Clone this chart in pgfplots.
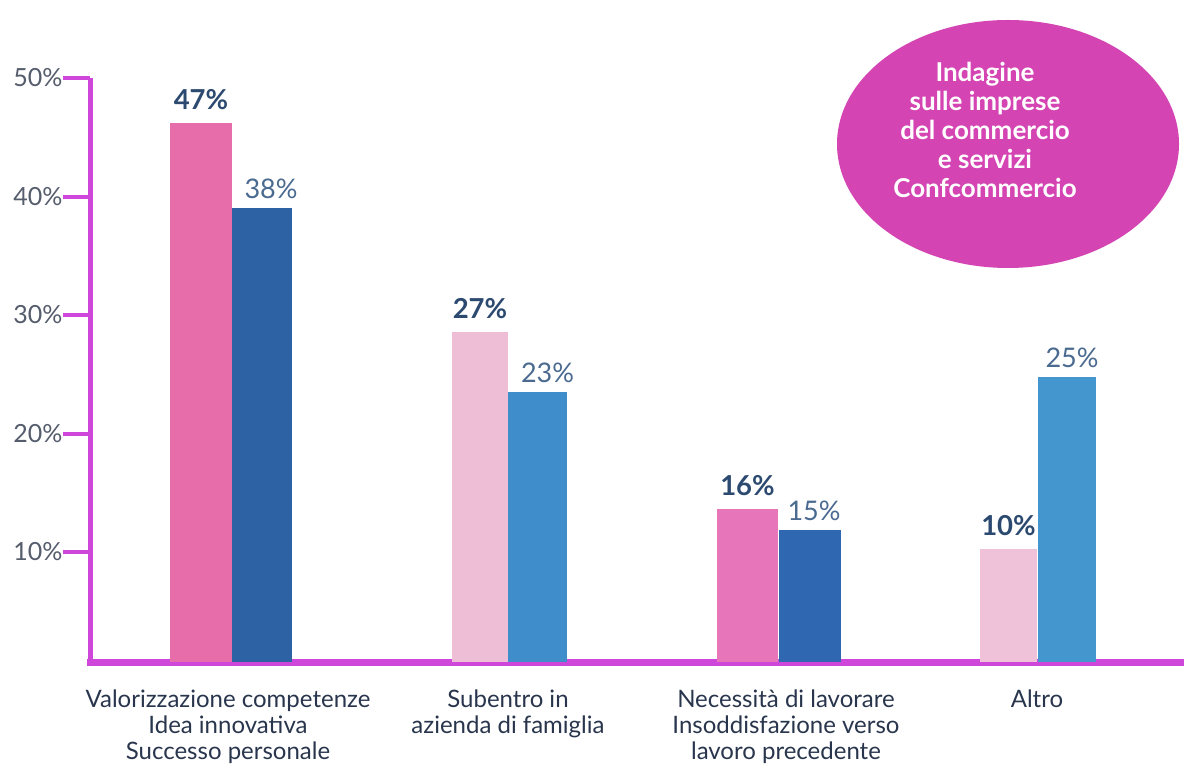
\documentclass[border=0pt]{standalone}
\usepackage{fontspec}
\setmainfont{Lato}
\usepackage{pgfplots}
\pgfplotsset{compat=1.18}

\definecolor{axiscol}{HTML}{CE46DA}
\definecolor{circcol}{HTML}{D444B2}
\definecolor{pinkA}{HTML}{E66CAA}
\definecolor{pinkB}{HTML}{EEBED6}
\definecolor{pinkC}{HTML}{E676B9}
\definecolor{pinkD}{HTML}{F0C2D9}
\definecolor{blueA}{HTML}{2D62A5}
\definecolor{blueB}{HTML}{3F8DCA}
\definecolor{blueC}{HTML}{2F68B0}
\definecolor{blueD}{HTML}{4496CF}
\definecolor{lblbold}{HTML}{2C4A70}
\definecolor{lblnorm}{HTML}{4A6A90}
\definecolor{ticktxt}{HTML}{555C6C}
\definecolor{cattxt}{HTML}{28354C}

\pgfplotsset{
  pinklbl/.style={nodes near coords style={anchor=south, inner sep=0pt, yshift=13pt,
      font=\fontsize{27.5}{31}\selectfont\bfseries, text=lblbold}},
  bluelbl/.style={nodes near coords style={anchor=south, inner sep=0pt, yshift=9pt,
      font=\fontsize{27}{31}\selectfont, text=lblnorm}},
}

\begin{document}
\begin{tikzpicture}
  \begin{axis}[
    at={(90.5pt,104pt)}, anchor=south west,
    x=1pt, y=11.85pt,
    xmin=90.5, xmax=1184, ymin=0.72, ymax=50,
    axis x line*=bottom, axis y line*=left,
    x axis line style={line width=7pt, draw=axiscol, -, line cap=rect},
    y axis line style={line width=5pt, draw=axiscol, -},
    tick align=outside, major tick length=28pt,
    ytick={10,20,30,40,50},
    yticklabels={10\%,20\%,30\%,40\%,50\%},
    ytick style={line width=4pt, draw=axiscol},
    yticklabel style={font=\fontsize{25}{28}\selectfont, text=ticktxt, inner sep=0pt},
    xtick={228,508,786,1037},
    xticklabels={{Valorizzazione competenze\\Idea innovativa\\Successo personale},
                 {Subentro in\\azienda di famiglia},
                 {Necessità di lavorare\\Insoddisfazione verso\\lavoro precedente},
                 {Altro}},
    xtick style={draw=none},
    xticklabel style={align=center, font=\fontsize{24}{26}\selectfont, text=cattxt, yshift=4pt},
  ]
    % Valorizzazione competenze
    \addplot[ybar, bar width=62, fill=pinkA, draw=none, pinklbl, nodes near coords={47\%}]
      coordinates {(201,46.2)};
    \addplot[ybar, bar width=60, fill=blueA, draw=none, bluelbl, nodes near coords={38\%},
      nodes near coords style={xshift=9pt}]
      coordinates {(262,39.0)};
    % Subentro
    \addplot[ybar, bar width=56, fill=pinkB, draw=none, pinklbl, nodes near coords={27\%}]
      coordinates {(480,28.6)};
    \addplot[ybar, bar width=59, fill=blueB, draw=none, bluelbl, nodes near coords={23\%},
      nodes near coords style={xshift=10pt}]
      coordinates {(537.5,23.5)};
    % Necessita
    \addplot[ybar, bar width=61, fill=pinkC, draw=none, pinklbl, nodes near coords={16\%}]
      coordinates {(747.5,13.6)};
    \addplot[ybar, bar width=62, fill=blueC, draw=none, bluelbl, nodes near coords={15\%},
      nodes near coords style={xshift=4pt}]
      coordinates {(810,11.9)};
    % Altro
    \addplot[ybar, bar width=57, fill=pinkD, draw=none, pinklbl, nodes near coords={10\%}]
      coordinates {(1008.5,10.25)};
    \addplot[ybar, bar width=58, fill=blueD, draw=none, bluelbl, nodes near coords={25\%},
      nodes near coords style={xshift=5pt}]
      coordinates {(1067,24.8)};
  \end{axis}
  \fill[circcol] (1008pt,622pt) ellipse [x radius=171pt, y radius=124pt];
  \node[align=center, text=white, font=\fontsize{26}{29}\selectfont\bfseries]
    at (985pt,636pt) {Indagine\\sulle imprese\\del commercio\\e servizi\\Confcommercio};
  \pgfresetboundingbox
  \path (0,0) rectangle (1184pt,766pt);
\end{tikzpicture}
\end{document}
